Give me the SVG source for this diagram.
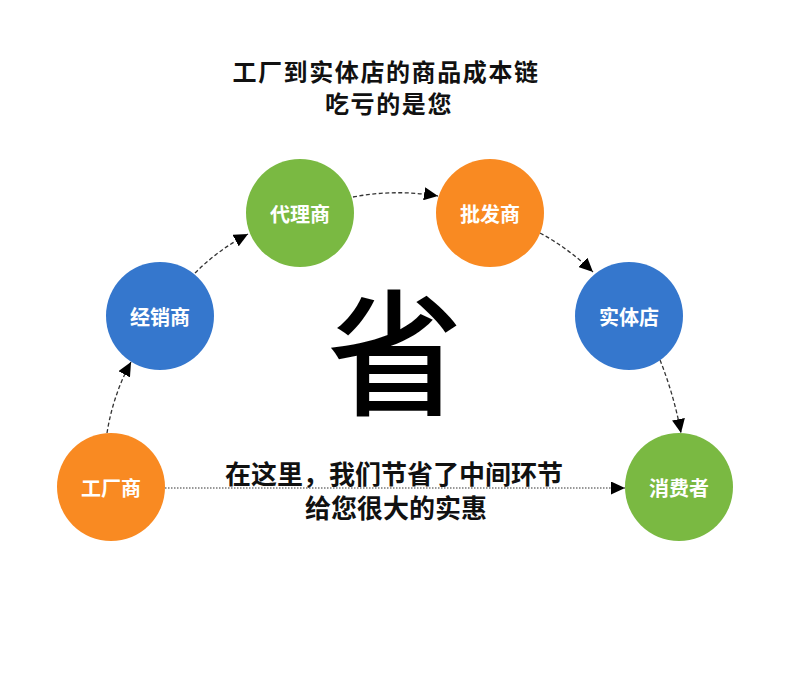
<svg xmlns="http://www.w3.org/2000/svg" width="790" height="681" viewBox="0 0 790 681">
<style>
.t{font-family:"Noto Sans CJK SC","Noto Sans",sans-serif;font-weight:bold;fill:#111;text-anchor:middle}
.n{font-family:"Noto Sans CJK SC","Noto Sans",sans-serif;font-weight:bold;fill:#fff;font-size:20px;text-anchor:middle;dominant-baseline:central}
.orange{fill:#F98A22}
.green{fill:#7AB942}
.blue{fill:#3577CD}
.c{fill:none;stroke:#333;stroke-width:1.3;stroke-dasharray:4 2.5;marker-end:url(#ah)}
.d{fill:none;stroke:#333;stroke-width:1.2;stroke-dasharray:1.5 1.5;marker-end:url(#ah)}
</style>
<defs>
<marker id="ah" markerUnits="userSpaceOnUse" markerWidth="15" markerHeight="13" refX="14" refY="6.5" orient="auto" viewBox="0 0 15 13">
<path d="M0,0 L14,6.5 L0,13 z" fill="#000"/>
</marker>
</defs>
<rect width="790" height="681" fill="#fff"/>
<g id="title">
<text class="t" font-size="24" letter-spacing="1.6"><tspan x="386" y="81">工厂到实体店的商品成本链</tspan><tspan x="389" y="113">吃亏的是您</tspan></text>
</g>
<g id="connectors">
<path class="c" d="M107,433 Q113,395 131,362"/>
<path class="c" d="M195,273 Q218,250 248,234"/>
<path class="c" d="M353,197 Q395,189 438,196"/>
<path class="c" d="M540,233 Q568,248 593,272"/>
<path class="c" d="M660,360 Q674,395 681,433"/>
<path class="d" d="M165,488 L625,488"/>
</g>
<g id="factory"><circle class="orange" cx="111" cy="487" r="54"/><text class="n" x="111" y="487">工厂商</text></g>
<g id="distributor"><circle class="blue" cx="160" cy="316" r="54"/><text class="n" x="160" y="316">经销商</text></g>
<g id="agent"><circle class="green" cx="300" cy="213" r="54"/><text class="n" x="300" y="213">代理商</text></g>
<g id="wholesaler"><circle class="orange" cx="490" cy="213" r="54"/><text class="n" x="490" y="213">批发商</text></g>
<g id="store"><circle class="blue" cx="629" cy="316" r="54"/><text class="n" x="629" y="316">实体店</text></g>
<g id="consumer"><circle class="green" cx="679" cy="487" r="54"/><text class="n" x="679" y="487">消费者</text></g>
<g id="save">
<text class="t" x="395" y="405" font-size="136" style="fill:#000;font-weight:500">省</text>
</g>
<g id="note">
<text class="t" x="394" y="484" font-size="26">在这里，我们节省了中间环节</text>
<text class="t" x="396" y="518" font-size="26">给您很大的实惠</text>
</g>
</svg>
